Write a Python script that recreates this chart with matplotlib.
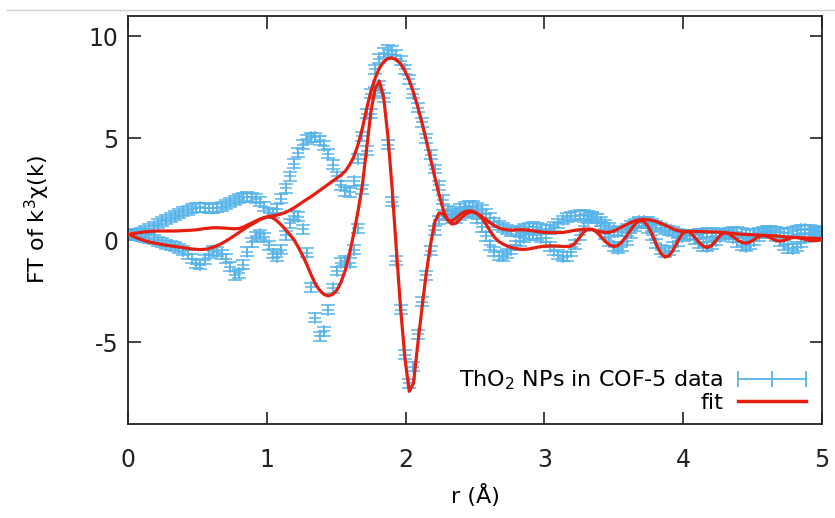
import numpy as np
import matplotlib
matplotlib.use('Agg')
import matplotlib.pyplot as plt
from matplotlib.lines import Line2D

plt.rcParams['axes.unicode_minus'] = False

# R grid of the Fourier transform [Angstrom]
r = np.arange(164) * 0.0307

# |FT| of the data
mag_data = [0.30, 0.32, 0.35, 0.40, 0.48, 0.58, 0.70, 0.82, 0.93, 1.02, 1.10,
            1.20, 1.30, 1.40, 1.48, 1.55, 1.60, 1.62, 1.60, 1.58, 1.58,
            1.60, 1.65, 1.75, 1.85, 1.95, 2.05, 2.12, 2.15, 2.12, 2.05, 1.90, 1.65,
            1.35, 1.30, 1.55, 2.05, 2.55, 3.15, 3.75, 4.30, 4.70, 4.95, 5.05, 5.05, 4.90,
            4.65, 4.25, 3.70, 3.15, 2.70, 2.40, 2.35, 2.90, 4.00, 5.10,
            6.20, 7.20, 8.40, 8.90, 9.20, 9.35, 9.30, 9.10, 8.80, 8.40,
            7.90, 7.20, 6.50, 5.80, 5.00, 4.20, 3.50, 2.70, 2.00, 1.45,
            1.30, 1.40, 1.55, 1.65, 1.70, 1.70, 1.62, 1.50, 1.30, 1.10, 0.90, 0.75, 0.62, 0.52, 0.45,
            0.45, 0.50, 0.58, 0.65, 0.68, 0.65, 0.58, 0.52, 0.55, 0.68, 0.85, 1.00, 1.10, 1.18, 1.22,
            1.25, 1.25, 1.22, 1.15, 1.05, 0.92, 0.78, 0.62, 0.50, 0.42, 0.45, 0.58, 0.72, 0.85, 0.93,
            0.95, 0.92, 0.85, 0.75, 0.62, 0.52, 0.48, 0.42, 0.35, 0.30, 0.28, 0.28, 0.30, 0.33, 0.36,
            0.38, 0.38, 0.36, 0.34, 0.35, 0.38, 0.42, 0.42, 0.38, 0.33, 0.30, 0.32, 0.38, 0.44, 0.48,
            0.48, 0.45, 0.40, 0.36, 0.38, 0.44, 0.50, 0.54, 0.55, 0.52, 0.48, 0.45, 0.42]

# Re[FT] of the data
re_data = [0.30, 0.26, 0.22, 0.18, 0.14, 0.08, 0.02, -0.05, -0.12, -0.18, -0.24,
           -0.30, -0.38, -0.50, -0.68, -0.90, -1.15, -1.20, -0.95, -0.65, -0.50,
           -0.55, -0.68, -0.90, -1.30, -1.70, -1.62, -1.20, -0.55, -0.10, 0.20, 0.30, 0.15,
           -0.25, -0.65, -0.80, -0.45, 0.25, 0.85, 1.20, 1.15, 0.55, -0.60, -2.30, -3.80, -4.70,
           -4.45, -3.40, -2.35, -1.50, -1.10, -1.00, -1.10, -0.45, 0.60, 2.50,
           4.40, 6.20, 7.30, 7.60, 7.00, 4.70, 1.90, -1.00, -3.40, -5.60,
           -7.00, -6.20, -4.60, -3.00, -1.70, -0.50, 0.50, 1.00,
           1.25, 1.20, 1.05, 1.05, 1.20, 1.35, 1.40, 1.30, 1.05, 0.65, 0.20, -0.25, -0.55, -0.75, -0.78, -0.65, -0.45,
           -0.25, -0.05, 0.12, 0.25, 0.30, 0.25, 0.12, -0.08, -0.30, -0.52, -0.70, -0.80, -0.78, -0.55, -0.20,
           0.25, 0.70, 1.05, 1.18, 1.05, 0.70, 0.30, -0.05, -0.30, -0.40, -0.30, -0.02, 0.35, 0.68, 0.88,
           0.85, 0.60, 0.25, -0.15, -0.45, -0.58, -0.50, -0.30, -0.05, 0.18, 0.28, 0.22, 0.05, -0.15, -0.28,
           -0.32, -0.22, -0.02, 0.18, 0.30, 0.28, 0.12, -0.08, -0.25, -0.30, -0.22, -0.02, 0.20, 0.36, 0.42,
           0.35, 0.18, -0.05, -0.25, -0.38, -0.42, -0.32, -0.12, 0.12, 0.30, 0.38, 0.35, 0.25]

# uncertainty of the data points
err = 0.22

# |FT| of the fit
mag_fit = [0.30, 0.33, 0.36, 0.39, 0.42, 0.44, 0.45, 0.46, 0.46, 0.46, 0.46,
           0.46, 0.47, 0.48, 0.49, 0.50, 0.52, 0.55, 0.58, 0.60, 0.62,
           0.62, 0.61, 0.60, 0.58, 0.57, 0.58, 0.65, 0.75, 0.85, 0.95, 1.05, 1.12,
           1.17, 1.20, 1.24, 1.30, 1.38, 1.48, 1.60, 1.74, 1.88, 2.02, 2.15, 2.30, 2.45,
           2.60, 2.75, 2.90, 3.05, 3.20, 3.40, 3.70, 4.10, 4.70, 5.50,
           6.45, 7.30, 7.95, 8.45, 8.75, 8.92, 8.95, 8.85, 8.65, 8.30,
           7.85, 7.25, 6.55, 5.75, 4.90, 4.00, 3.10, 2.25, 1.50, 1.00,
           0.95, 1.10, 1.28, 1.40, 1.45, 1.42, 1.32, 1.18, 1.02, 0.86, 0.72, 0.62, 0.55, 0.52, 0.50,
           0.52, 0.52, 0.52, 0.50, 0.47, 0.44, 0.41, 0.39, 0.38, 0.38, 0.38, 0.39, 0.42, 0.46, 0.50,
           0.53, 0.55, 0.55, 0.52, 0.47, 0.42, 0.39, 0.40, 0.46, 0.56, 0.67, 0.78, 0.88, 0.96, 1.01,
           1.03, 1.02, 0.98, 0.92, 0.84, 0.75, 0.65, 0.55, 0.48, 0.44, 0.44, 0.44, 0.44, 0.43, 0.43,
           0.42, 0.42, 0.41, 0.40, 0.38, 0.36, 0.34, 0.32, 0.30, 0.29, 0.28, 0.27, 0.26, 0.25, 0.24,
           0.23, 0.22, 0.20, 0.18, 0.16, 0.15, 0.14, 0.13, 0.12, 0.11, 0.10, 0.09, 0.08]

# Re[FT] of the fit
re_fit = [0.30, 0.22, 0.13, 0.05, -0.02, -0.08, -0.12, -0.16, -0.20, -0.24, -0.27,
          -0.30, -0.33, -0.36, -0.39, -0.42, -0.44, -0.45, -0.44, -0.40, -0.33,
          -0.25, -0.15, -0.03, 0.10, 0.24, 0.38, 0.52, 0.66, 0.78, 0.90, 1.02, 1.10,
          1.18, 1.10, 0.95, 0.75, 0.52, 0.28, 0.02, -0.35, -0.75, -1.20, -1.70, -2.15, -2.45,
          -2.65, -2.72, -2.65, -2.45, -2.05, -1.45, -0.65, 0.35, 1.45, 2.70,
          4.50, 6.30, 7.45, 7.80, 7.00, 5.10, 2.50, -0.50, -3.40, -5.80,
          -7.40, -7.00, -5.10, -3.30, -1.60, -0.20, 0.90, 1.35, 1.30, 1.00,
          0.80, 0.85, 1.05, 1.25, 1.38, 1.40, 1.30, 1.10, 0.80, 0.45, 0.15, -0.05, -0.18, -0.28, -0.35,
          -0.40, -0.43, -0.44, -0.42, -0.38, -0.34, -0.30, -0.28, -0.27, -0.27, -0.28, -0.30, -0.30, -0.28, -0.12,
          0.15, 0.42, 0.55, 0.55, 0.40, 0.18, -0.05, -0.22, -0.30, -0.25, -0.05, 0.22, 0.52, 0.80, 0.97,
          0.95, 0.70, 0.30, -0.20, -0.62, -0.82, -0.75, -0.45, -0.05, 0.30, 0.45, 0.38, 0.15, -0.10, -0.28,
          -0.35, -0.25, 0.00, 0.25, 0.38, 0.33, 0.18, 0.02, -0.10, -0.13, -0.08, 0.05, 0.18, 0.24, 0.20,
          0.10, 0.00, -0.04, 0.00, 0.08, 0.14, 0.14, 0.10, 0.04, 0.00, -0.02, 0.00, 0.04]

blue = '#56b4e9'
red = '#e51e10'

fig = plt.figure(figsize=(8.35, 5.18), dpi=100)
ax = fig.add_axes([0.1533, 0.1815, 0.8311, 0.7876])

# data with error bars
eb_style = dict(fmt='+', color=blue, ms=9, mew=1.1, elinewidth=1.1,
                capsize=5, capthick=1.1, zorder=2)
ax.errorbar(r, mag_data, yerr=err, **eb_style)
ax.errorbar(r, re_data, yerr=err, **eb_style)

# fitted curves
ax.plot(r, mag_fit, '-', color=red, lw=2.3, zorder=3)
ax.plot(r, re_fit, '-', color=red, lw=2.3, zorder=3)

ax.set_xlim(0, 5)
ax.set_ylim(-9, 11)
ax.set_xticks([0, 1, 2, 3, 4, 5])
ax.set_yticks([-5, 0, 5, 10])
ax.tick_params(direction='in', top=True, right=True, length=9, width=1.2,
               labelsize=17, colors='#222222')
ax.tick_params(axis='x', pad=17)
ax.tick_params(axis='y', pad=7)
for s in ax.spines.values():
    s.set_linewidth(1.3)
    s.set_color('#222222')

ax.set_xlabel('r (Å)', fontsize=16, labelpad=9)
ax.set_ylabel('FT of k$^3$χ(k)', fontsize=16, labelpad=26)

handles = [Line2D([], [], color=blue, lw=1.3, marker='|', ms=12, mew=1.3),
           Line2D([], [], color=red, lw=2.5)]
ax.legend(handles, ['ThO$_2$ NPs in COF-5 data', 'fit'], loc='lower right',
          bbox_to_anchor=(1.0, 0.005), numpoints=3, markerfirst=False,
          frameon=False, fontsize=16, handlelength=3.7, handletextpad=0.35,
          labelspacing=0.05, borderaxespad=0)

# thin grey rule at the very top of the screenshot
fig.add_artist(Line2D([0.008, 1.0], [0.981, 0.981], color='#cccccc', lw=1.0))

fig.savefig('out.png', dpi=100)
